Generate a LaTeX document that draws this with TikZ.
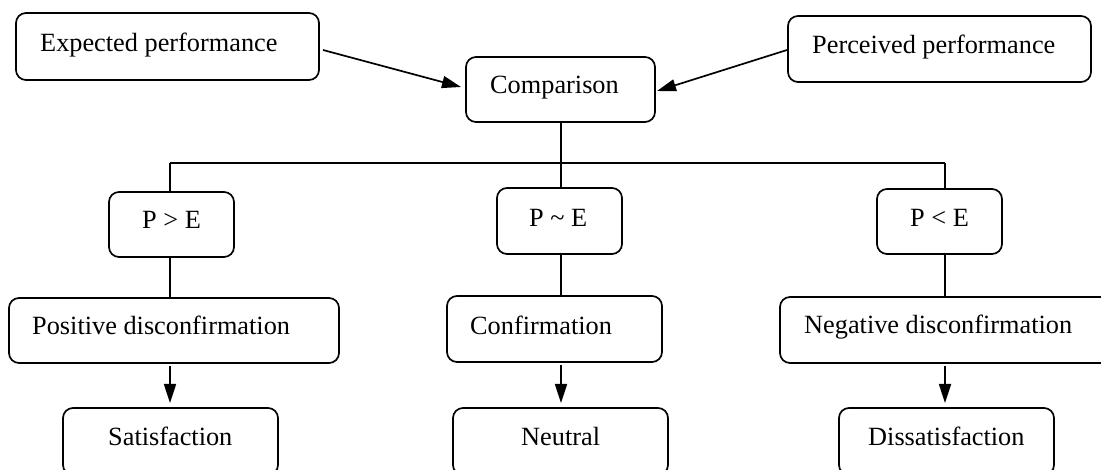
\documentclass[tikz,border=0pt]{standalone}
\usepackage{fontspec}
\setmainfont{Liberation Serif}
\usetikzlibrary{arrows.meta}
\begin{document}
\begin{tikzpicture}[x=1pt,y=-1pt,
  box/.style={draw, rounded corners=10pt, line width=1.7pt, inner sep=0pt, outer sep=0pt},
  txt/.style={font=\fontsize{26.3}{30}\selectfont, inner sep=0pt, anchor=base west},
  ln/.style={line width=1.7pt},
  arr/.style={line width=1.7pt, -{Triangle[length=19pt,width=12pt]}}]
\useasboundingbox (0,0) rectangle (1101,470);
\clip (0,0) rectangle (1101,470);
\fill[white] (0,0) rectangle (1101,470);
% boxes
\node[box, minimum width=303pt, minimum height=67pt] (exp)  at (167.5,46.5) {};
\node[box, minimum width=189pt, minimum height=65pt] (comp) at (560.5,89.5) {};
\node[box, minimum width=303pt, minimum height=66pt] (perc) at (939.5,49) {};
\node[box, minimum width=125pt, minimum height=65pt] (pge)  at (171.5,224.5) {};
\node[box, minimum width=125pt, minimum height=66pt] (pse)  at (559.5,221) {};
\node[box, minimum width=125pt, minimum height=65pt] (ple)  at (939.5,221.5) {};
\node[box, minimum width=330pt, minimum height=65pt] (pos)  at (174,330.5) {};
\node[box, minimum width=215pt, minimum height=66pt] (conf) at (554.5,329) {};
\node[box, minimum width=332pt, minimum height=66pt] (neg)  at (946,330) {};
\node[box, minimum width=215pt, minimum height=67pt] (sat)  at (170.5,441.5) {};
\node[box, minimum width=215pt, minimum height=67pt] (neu)  at (560.5,441.5) {};
\node[box, minimum width=215pt, minimum height=67pt] (dis)  at (946.5,441.5) {};
% texts
\node[txt] (texp)  at (40,52)   {Expected performance};
\node[txt] (tcomp) at (490,94)  {Comparison};
\node[txt] (tperc) at (812,54)  {Perceived performance};
\node[txt] (tpge)  at (142,229) {P > E};
\node[txt] (tpse)  at (529,227) {P \textasciitilde{} E};
\node[txt] (tple)  at (910,227) {P < E};
\node[txt] (tpos)  at (32,335)  {Positive disconfirmation};
\node[txt] (tconf) at (470,335) {Confirmation};
\node[txt] (tneg)  at (804,334) {Negative disconfirmation};
\node[txt] (tsat)  at (108,446) {Satisfaction};
\node[txt] (tneu)  at (521,446) {Neutral};
\node[txt] (tdis)  at (868,446) {Dissatisfaction};
% column coordinates on the bus
\coordinate (bL) at (170,163);
\coordinate (bM) at (561,163);
\coordinate (bR) at (945,163);
% connectors
\draw[arr] ([xshift=4pt,yshift=-3.5pt]exp.east) -- ([xshift=-5pt,yshift=2.5pt]comp.west);
\draw[arr] ([xshift=-1pt,yshift=-1pt]perc.west) -- ([xshift=2pt,yshift=-1.5pt]comp.east);
\draw[ln] (bM |- comp.south) -- (bM |- pse.north);
\draw[ln] (bL) -- (bR);
\draw[ln] (bL) -- (bL |- pge.north);
\draw[ln] (bR) -- (bR |- ple.north);
\draw[ln] (bL |- pge.south) -- (bL |- pos.north);
\draw[ln] (bM |- pse.south) -- (bM |- conf.north);
\draw[ln] (bR |- ple.south) -- (bR |- neg.north);
\draw[arr] ([yshift=-3pt]bL |- pos.south) -- ([yshift=5pt]bL |- sat.north);
\draw[arr] ([yshift=-3pt]bM |- conf.south) -- ([yshift=5pt]bM |- neu.north);
\draw[arr] ([yshift=-3pt]bR |- neg.south) -- ([yshift=5pt]bR |- dis.north);
\end{tikzpicture}
\end{document}
